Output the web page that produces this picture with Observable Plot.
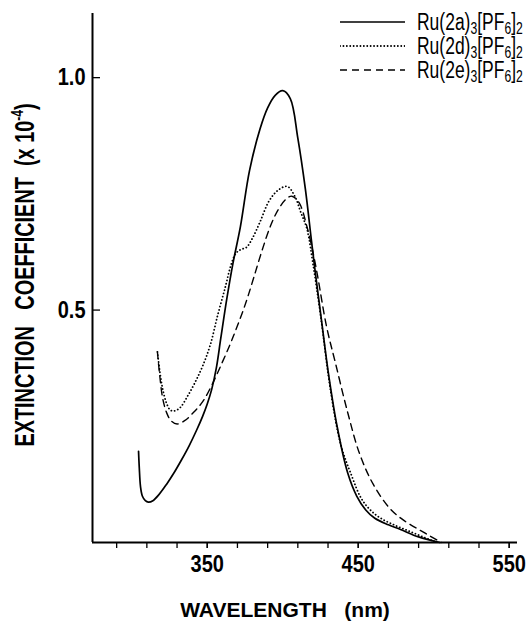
<!DOCTYPE html>
<html><head><meta charset="utf-8">
<script src="https://cdn.jsdelivr.net/npm/d3@7"></script>
<script src="https://cdn.jsdelivr.net/npm/@observablehq/plot@0.6"></script>
<style>
html,body{margin:0;padding:0;background:#fff;overflow:hidden;width:527px;height:621px}
#wrap{position:relative;width:527px;height:621px;font-family:"Liberation Sans",Arial,sans-serif;color:#000;overflow:hidden}
#chart{position:absolute;left:0;top:0}
.ytitle{position:absolute;left:24px;top:275px;transform:translate(-50%,-50%) rotate(-90deg) scaleX(0.71);white-space:nowrap;font-weight:bold;font-size:28px;line-height:1}
.ytitle sup{font-size:17px}
.xtitle{position:absolute;left:285px;top:598px;transform:translateX(-50%);white-space:pre;font-weight:bold;font-size:21px}
.legend{position:absolute;left:340px;top:10px;white-space:nowrap}
.row{height:24px;display:flex;align-items:center}
.row svg{margin-right:12px;flex:none}
.row span{display:inline-block;font-size:23px;transform:scaleX(0.76);transform-origin:0 50%;line-height:1}
.row sub{font-size:16px;vertical-align:-0.25em;line-height:0}
</style>
</head><body>
<div id="wrap"><div id="chart"></div>
<div class="ytitle">EXTINCTION&nbsp;&nbsp;&nbsp;COEFFICIENT&nbsp;&nbsp;(x 10<sup>-4</sup>)</div>
<div class="xtitle">WAVELENGTH   (nm)</div>
<div class="legend" id="legend"></div>
</div>
<script>
// ---- data ----
const xDomain = [274, 555.5];
const yDomain = [0, 1.138];
const xMajorTicks = [350, 450, 550];
const xMinorTicks = [290, 310, 330, 350, 370, 390, 410, 430, 450, 470, 490, 510, 530, 550];
const yTicks = [0.5, 1.0];

const legendLabels = ["2a", "2d", "2e"];

const wl2a = [304.5, 305, 305.8, 307, 309, 311, 314, 318, 323, 328, 333, 338, 343, 347, 350, 353, 356, 359, 363, 367, 372, 378, 385, 390, 395, 400, 405, 410, 415, 419, 422, 426, 430, 436, 443, 449, 455, 461, 470, 478, 490, 504];
const eps2a = [0.196, 0.16, 0.12, 0.1, 0.09, 0.087, 0.09, 0.103, 0.125, 0.15, 0.178, 0.208, 0.242, 0.272, 0.298, 0.33, 0.375, 0.44, 0.525, 0.6, 0.68, 0.8, 0.89, 0.935, 0.962, 0.972, 0.955, 0.87, 0.76, 0.65, 0.57, 0.47, 0.37, 0.25, 0.15, 0.1, 0.07, 0.052, 0.038, 0.028, 0.012, 0];

const wl2d = [317, 318.5, 320.5, 323, 325.5, 328, 332, 337, 342, 347, 352, 357, 362, 366, 369, 372, 376, 380, 385, 391, 397, 403, 408, 412, 416, 420, 425, 432, 438.5, 445.5, 452, 458, 465, 475, 484, 493, 502];
const eps2d = [0.41, 0.37, 0.33, 0.3, 0.285, 0.283, 0.29, 0.315, 0.345, 0.38, 0.425, 0.49, 0.55, 0.6, 0.622, 0.63, 0.635, 0.655, 0.69, 0.735, 0.758, 0.766, 0.745, 0.71, 0.675, 0.6, 0.49, 0.32, 0.21, 0.145, 0.095, 0.07, 0.052, 0.036, 0.024, 0.012, 0];

const wl2e = [317, 318.5, 320.5, 323, 326, 330, 335, 341, 347, 354, 360, 365, 369, 373, 377, 381, 386, 392, 397, 402, 406, 411, 416, 420, 423, 429, 435, 443, 451, 460, 471, 480, 489, 497, 505];
const eps2e = [0.41, 0.36, 0.31, 0.28, 0.262, 0.255, 0.262, 0.28, 0.303, 0.345, 0.388, 0.425, 0.458, 0.492, 0.53, 0.572, 0.625, 0.682, 0.716, 0.738, 0.745, 0.73, 0.68, 0.625, 0.575, 0.465, 0.385, 0.28, 0.19, 0.125, 0.073, 0.048, 0.03, 0.015, 0];

// ---- build ----
const toRows = (w, e) => w.map((x, i) => ({wl: x, eps: e[i]}));
const s2a = toRows(wl2a, eps2a), s2d = toRows(wl2d, eps2d), s2e = toRows(wl2e, eps2e);

const styles = [
  {stroke: "#000", strokeWidth: 1.7},
  {stroke: "#000", strokeWidth: 1.8, strokeDasharray: "0.1,3.3", strokeLinecap: "round"},
  {stroke: "#000", strokeWidth: 1.4, strokeDasharray: "7,5"}
];

const plot = Plot.plot({
  width: 527, height: 621,
  marginLeft: 92, marginRight: 10, marginTop: 13, marginBottom: 79,
  style: {fontFamily: "'Liberation Sans', Arial, sans-serif", fontSize: "20px", fontWeight: "bold", color: "#000", background: "transparent", overflow: "visible"},
  x: {domain: xDomain, label: null},
  y: {domain: yDomain, label: null},
  marks: [
    Plot.ruleY([yDomain[0]], {stroke: "#000", strokeWidth: 2}),
    Plot.ruleX([xDomain[0]], {stroke: "#000", strokeWidth: 2}),
    Plot.axisX({ticks: xMinorTicks, tickSize: 6, tickFormat: () => "", label: null, strokeWidth: 1.3}),
    Plot.axisX({ticks: xMajorTicks, tickSize: 6, tickPadding: 7, label: null, strokeWidth: 1.3, fontSize: 20, fontWeight: "bold"}),
    Plot.axisY({ticks: yTicks, tickSize: 8, dx: 8, tickFormat: () => "", label: null, strokeWidth: 1.3}),
    Plot.axisY({ticks: yTicks, tickSize: 0, tickPadding: 7, tickFormat: d3.format(".1f"), label: null, fontSize: 20, fontWeight: "bold"}),
    Plot.line(s2a, {x: "wl", y: "eps", curve: "catmull-rom", ...styles[0]}),
    Plot.line(s2d, {x: "wl", y: "eps", curve: "catmull-rom", ...styles[1]}),
    Plot.line(s2e, {x: "wl", y: "eps", curve: "catmull-rom", ...styles[2]})
  ]
});
document.getElementById("chart").appendChild(plot);

// make tick label glyphs a little taller, like the scanned figure
d3.select(plot).selectAll('g[aria-label="x-axis tick label"] text, g[aria-label="y-axis tick label"] text').each(function () {
  const t = this.getAttribute("transform");
  if (t && t.includes("translate")) this.setAttribute("transform", t + " scale(1,1.18)");
});

// legend
const leg = document.getElementById("legend");
legendLabels.forEach((lab, i) => {
  const row = document.createElement("div");
  row.className = "row";
  const st = styles[i];
  row.innerHTML = `<svg width="65" height="6"><line x1="0" y1="3" x2="65" y2="3" stroke="${st.stroke}" stroke-width="${st.strokeWidth}" ${st.strokeDasharray ? `stroke-dasharray="${st.strokeDasharray}"` : ""} ${st.strokeLinecap ? `stroke-linecap="${st.strokeLinecap}"` : ""}/></svg><span>Ru(${lab})<sub>3</sub>[PF<sub>6</sub>]<sub>2</sub></span>`;
  leg.appendChild(row);
});
</script>
</body></html>
